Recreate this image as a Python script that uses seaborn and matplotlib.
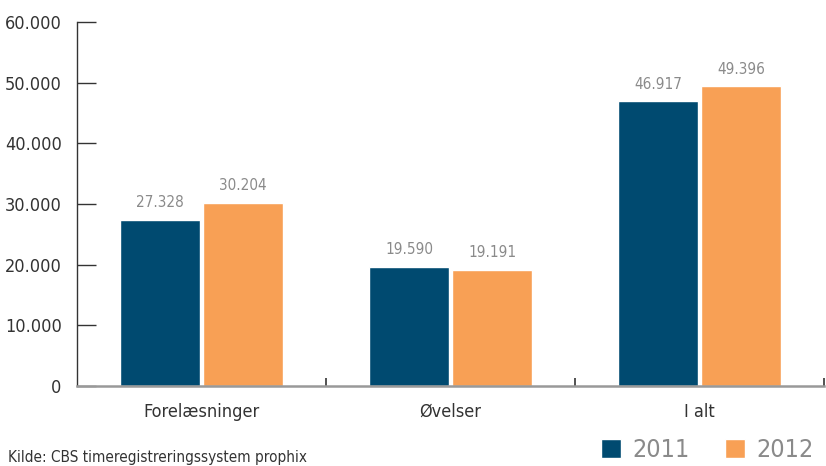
import pandas as pd
import matplotlib.pyplot as plt
import seaborn as sns
from matplotlib.ticker import FuncFormatter

# ---------------------------------------------------------
# data
# ---------------------------------------------------------
categories = ["Forelæsninger", "Øvelser", "I alt"]
years = ["2011", "2012"]
hours_2011 = [27328, 19590, 46917]
hours_2012 = [30204, 19191, 49396]
source = "Kilde: CBS timeregistreringssystem prophix"

df = pd.DataFrame({
    "Kategori": categories * 2,
    "År": [years[0]] * 3 + [years[1]] * 3,
    "Timer": hours_2011 + hours_2012,
})

NAVY = "#004a70"
ORANGE = "#f8a055"
GREY = "#8a8a8a"
DARK = "#333333"

sns.set_style("white")
plt.rcParams["font.family"] = ["DejaVu Sans"]
plt.rcParams["font.stretch"] = "condensed"


def dk(v):
    return f"{v:,.0f}".replace(",", ".")


fig = plt.figure(figsize=(8.26, 4.66), dpi=100)
ax = fig.add_axes([77 / 826, 80 / 466, 747 / 826, 364 / 466])

sns.barplot(data=df, x="Kategori", y="Timer", hue="År", order=categories,
            hue_order=years, palette=[NAVY, ORANGE], width=0.667, gap=0.048,
            saturation=1, legend=True, ax=ax)

for cont in ax.containers:
    ax.bar_label(cont, labels=[dk(v) for v in cont.datavalues], padding=7,
                 color=GREY, fontsize=11)

ax.set_xlim(-0.5, 2.5)
ax.set_ylim(0, 60000)
ax.set_yticks(range(0, 60001, 10000))
ax.yaxis.set_major_formatter(FuncFormatter(lambda v, p: dk(v)))
ax.set_xlabel("")
ax.set_ylabel("")

ax.tick_params(axis="y", direction="in", length=14, width=1, color=DARK,
               labelsize=13, labelcolor=DARK, pad=11, left=True)
ax.tick_params(axis="x", which="major", length=0, labelsize=13,
               labelcolor=DARK, pad=12)
ax.set_xticks([0.5, 1.5, 2.5], minor=True)
ax.tick_params(axis="x", which="minor", direction="in", length=6, width=1.2,
               color=DARK, bottom=True)

for s in ["top", "right"]:
    ax.spines[s].set_visible(False)
ax.spines["left"].set_color(DARK)
ax.spines["left"].set_linewidth(1)
ax.spines["bottom"].set_color("#999999")
ax.spines["bottom"].set_linewidth(1.8)

handles, labels = ax.get_legend_handles_labels()
ax.get_legend().remove()
fig.legend(handles, labels, loc="lower right", bbox_to_anchor=(1.012, -0.04),
           ncol=2, frameon=False, fontsize=18, labelcolor=GREY,
           handlelength=0.8, handleheight=0.8, handletextpad=0.45,
           columnspacing=1.4)

fig.text(8 / 826, 0.002, source, fontsize=11, color=DARK, ha="left",
         va="bottom")

fig.savefig("out.png", dpi=100)
